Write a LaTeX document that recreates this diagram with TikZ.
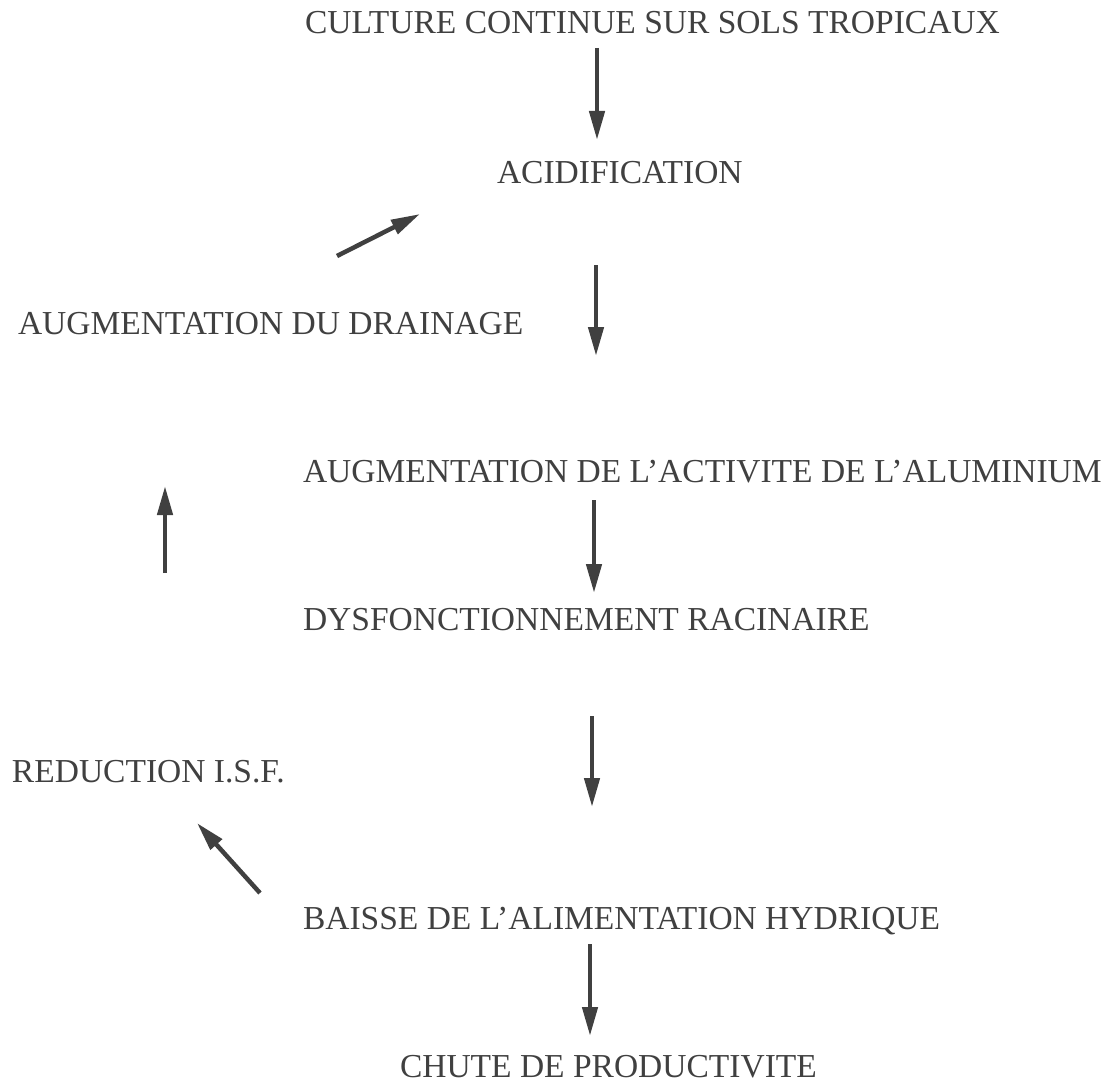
\documentclass[tikz,border=0pt]{standalone}
\usepackage{fontspec}
\setmainfont{Liberation Serif}
\usetikzlibrary{arrows.meta}
\definecolor{ink}{HTML}{404040}
\begin{document}
\begin{tikzpicture}[x=1pt,y=-1pt,
  lab/.style={anchor=base west,inner sep=0pt,outer sep=0pt,text=ink,font=\fontsize{33.5}{33.5}\selectfont},
  arr/.style={draw=ink,line width=4.5pt,-{Triangle[length=29pt,width=15pt]}}]
\useasboundingbox (0,0) rectangle (1115,1083);
\node[lab] (culture) at (305,34) {CULTURE CONTINUE SUR SOLS TROPICAUX};
\node[lab] (acid) at (497,184) {ACIDIFICATION};
\node[lab] (drain) at (18,334) {AUGMENTATION DU DRAINAGE};
\node[lab] (alu) at (303,482) {AUGMENTATION DE L'ACTIVITE DE L'ALUMINIUM};
\node[lab] (dys) at (303,630) {DYSFONCTIONNEMENT RACINAIRE};
\node[lab] (isf) at (12,782) {REDUCTION I.S.F.};
\node[lab] (baisse) at (303,929) {BAISSE DE L'ALIMENTATION HYDRIQUE};
\node[lab] (chute) at (400,1077) {CHUTE DE PRODUCTIVITE};
\coordinate (a1s) at (597,48); \coordinate (a1e) at (597,140);
\coordinate (a2s) at (596,265); \coordinate (a2e) at (596,356);
\coordinate (a3s) at (594,500); \coordinate (a3e) at (594,593);
\coordinate (a4s) at (592,716); \coordinate (a4e) at (592,807);
\coordinate (a5s) at (590,944); \coordinate (a5e) at (590,1036);
\coordinate (b1s) at (260,893); \coordinate (b1e) at (197,823);
\coordinate (b2s) at (165,573); \coordinate (b2e) at (165,486);
\coordinate (b3s) at (337,256); \coordinate (b3e) at (420,214);
\draw[arr] (a1s) -- (a1e);
\draw[arr] (a2s) -- (a2e);
\draw[arr] (a3s) -- (a3e);
\draw[arr] (a4s) -- (a4e);
\draw[arr] (a5s) -- (a5e);
\draw[arr] (b1s) -- (b1e);
\draw[arr] (b2s) -- (b2e);
\draw[arr] (b3s) -- (b3e);
\end{tikzpicture}
\end{document}
